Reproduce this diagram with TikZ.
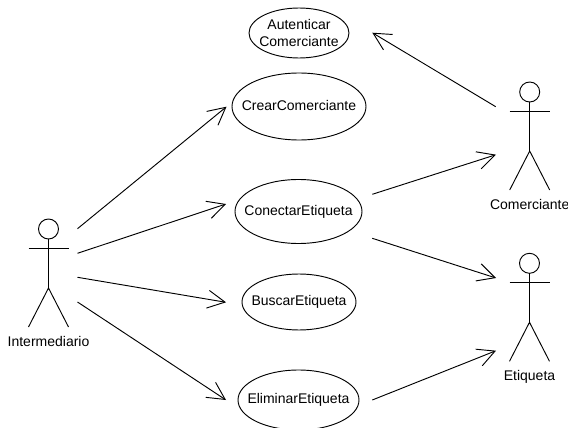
\documentclass[tikz,border=0pt]{standalone}
\usepackage{fontspec}
\setmainfont{Liberation Sans}
\usetikzlibrary{shapes.geometric,arrows.meta}
\newcommand\ucstrut{\rule[-2pt]{0pt}{10pt}}
\tikzset{
  usecase/.style args={#1/#2/#3}{ellipse,draw,line width=.7pt,inner sep=0pt,outer sep=0pt,
    minimum width=#1*1.5pt,minimum height=#2*1.5pt,
    label={[inner sep=0pt,align=center,font=\fontsize{10.5pt}{12.4pt}\selectfont]center:#3}},
  actorbox/.style={inner sep=0pt,outer sep=0pt,minimum size=0pt},
  actorlabel/.style={inner sep=0pt,anchor=base,font=\fontsize{10.5pt}{12.4pt}\selectfont},
  stick/.style={line width=.7pt,line join=round},
  arr/.style={line width=.7pt,-{Straight Barb[length=13pt,width=13.4pt,line width=.7pt]}}
}
% #1 name, #2 position (centre of the arms), #3 label
\newcommand\stickactor[3]{%
  \node[actorbox] (#1) at (#2) {};
  \draw[stick] ([shift={(0,-19)}]#1.center) circle[radius=10];
  \draw[stick] ([shift={(-20,0)}]#1.center) -- ([shift={(20,0)}]#1.center);
  \draw[stick] ([shift={(0,-9)}]#1.center) -- ([shift={(0,40)}]#1.center);
  \draw[stick] ([shift={(-20,79)}]#1.center) -- ([shift={(0,40)}]#1.center) -- ([shift={(20,79)}]#1.center);
  \node[actorlabel] (#1label) at ([shift={(0,98)}]#1.center) {#3};
}
\begin{document}
\begin{tikzpicture}[x=.75pt,y=-.75pt]
\useasboundingbox (0,0) rectangle (568,428);
\clip (0,0) rectangle (568,428);
\node[usecase={50/25/Autenticar\\Comerciante}] (auth) at (299,33) {};
\node[usecase={67/33.5/\ucstrut CrearComerciante}] (crear) at (299,106.5) {};
\node[usecase={63.5/32/\ucstrut ConectarEtiqueta}] (conectar) at (298.5,211.5) {};
\node[usecase={57/28/\ucstrut BuscarEtiqueta}] (buscar) at (299,302) {};
\node[usecase={60.5/30/\ucstrut EliminarEtiqueta}] (eliminar) at (298.5,400) {};
\stickactor{inter}{48.5,248}{Intermediario}
\stickactor{comer}{529.7,111}{Comerciante}
\stickactor{etiq}{529.5,282.3}{Etiqueta}
\draw[arr] ([shift={(29,-19.3)}]inter.center) -- ([shift={(-72.5,0.2)}]crear.center);
\draw[arr] ([shift={(29,5.3)}]inter.center) -- ([shift={(-72.5,-7.5)}]conectar.center);
\draw[arr] ([shift={(29,29.3)}]inter.center) -- ([shift={(-73,0.3)}]buscar.center);
\draw[arr] ([shift={(29,54)}]inter.center) -- ([shift={(-72.5,0)}]eliminar.center);
\draw[arr] ([shift={(-34,-4.3)}]comer.center) -- ([shift={(73.3,-0.3)}]auth.center);
\draw[arr] ([shift={(73.8,-17.2)}]conectar.center) -- ([shift={(-33.7,43.7)}]comer.center);
\draw[arr] ([shift={(73.8,26.8)}]conectar.center) -- ([shift={(-33.5,-4.3)}]etiq.center);
\draw[arr] ([shift={(73.8,0)}]eliminar.center) -- ([shift={(-33.5,68.4)}]etiq.center);
\end{tikzpicture}
\end{document}
